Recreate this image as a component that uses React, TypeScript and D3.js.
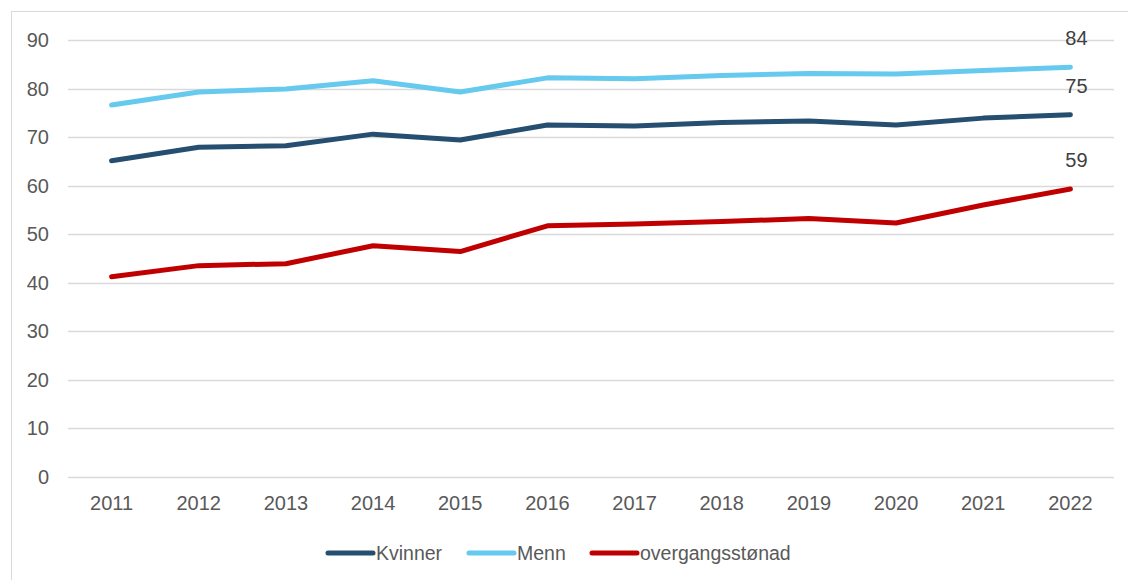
import React, { useEffect, useRef } from 'react';
import * as d3 from 'd3';

const years = ['2011', '2012', '2013', '2014', '2015', '2016', '2017', '2018', '2019', '2020', '2021', '2022'];
const kvinner = [65.1, 67.9, 68.2, 70.6, 69.4, 72.5, 72.3, 73.0, 73.3, 72.5, 73.9, 74.6];
const menn = [76.6, 79.3, 79.9, 81.6, 79.3, 82.2, 82.0, 82.7, 83.1, 83.0, 83.7, 84.4];
const overgangsstonad = [41.2, 43.5, 43.9, 47.6, 46.4, 51.7, 52.1, 52.6, 53.2, 52.3, 56.0, 59.3];
const yTicks = [0, 10, 20, 30, 40, 50, 60, 70, 80, 90];
const endLabels = ['75', '84', '59'];

const seriesNames = ['Kvinner', 'Menn', 'overgangsstønad'];
const seriesColors = ['#254E70', '#65CAEE', '#C00000'];

const App = () => {
  const svgRef = useRef<SVGSVGElement>(null);

  useEffect(() => {
    document.body.style.margin = '0';
    const svg = d3.select(svgRef.current);
    svg.selectAll('*').remove();

    const width = 1128;
    const height = 580;
    const font = '"Liberation Sans", Arial, sans-serif';
    const textColor = '#595959';

    // outer frame
    svg.append('rect')
      .attr('x', 11.5).attr('y', 11.5)
      .attr('width', width + 20).attr('height', height + 20)
      .attr('fill', 'none')
      .attr('stroke', '#d9d9d9')
      .attr('stroke-width', 1);

    const x = d3.scaleBand().domain(years).range([68, 1114]);
    const y = d3.scaleLinear().domain([0, 90]).range([476.7, 40]);
    const cx = (d: string) => (x(d) as number) + x.bandwidth() / 2;

    // gridlines
    svg.append('g')
      .selectAll('line')
      .data(yTicks)
      .enter().append('line')
      .attr('x1', 68).attr('x2', 1114)
      .attr('y1', d => Math.round(y(d)) + 0.5)
      .attr('y2', d => Math.round(y(d)) + 0.5)
      .attr('stroke', '#d9d9d9')
      .attr('stroke-width', 1.5);

    // y tick labels
    svg.append('g')
      .selectAll('text')
      .data(yTicks)
      .enter().append('text')
      .attr('x', 49)
      .attr('y', d => y(d) + 7)
      .attr('text-anchor', 'end')
      .style('font-family', font)
      .style('font-size', '20px')
      .style('fill', textColor)
      .text(d => d);

    // x tick labels
    svg.append('g')
      .selectAll('text')
      .data(years)
      .enter().append('text')
      .attr('x', d => cx(d))
      .attr('y', 510)
      .attr('text-anchor', 'middle')
      .style('font-family', font)
      .style('font-size', '20px')
      .style('fill', textColor)
      .text(d => d);

    const allSeries = [kvinner, menn, overgangsstonad];

    const line = d3.line<number>()
      .x((_, i) => cx(years[i]))
      .y(d => y(d));

    allSeries.forEach((values, si) => {
      svg.append('path')
        .datum(values)
        .attr('fill', 'none')
        .attr('stroke', seriesColors[si])
        .attr('stroke-width', 5)
        .attr('stroke-linecap', 'round')
        .attr('stroke-linejoin', 'round')
        .attr('d', line);

      const last = values.length - 1;
      svg.append('text')
        .attr('x', cx(years[last]) + 6)
        .attr('y', y(values[last]) - 22)
        .attr('text-anchor', 'middle')
        .style('font-family', font)
        .style('font-size', '20px')
        .style('fill', '#404040')
        .text(endLabels[si]);
    });

    // legend
    const legendX = [328, 469, 592];
    const legend = svg.append('g');
    seriesNames.forEach((name, i) => {
      legend.append('line')
        .attr('x1', legendX[i]).attr('x2', legendX[i] + 45)
        .attr('y1', 553).attr('y2', 553)
        .attr('stroke', seriesColors[i])
        .attr('stroke-width', 5)
        .attr('stroke-linecap', 'round');
      legend.append('text')
        .attr('x', legendX[i] + 48)
        .attr('y', 560)
        .style('font-family', font)
        .style('font-size', '19.5px')
        .style('fill', textColor)
        .text(name);
    });
  }, []);

  return (
    <div style={{ width: 1128, height: 580, background: '#fff' }}>
      <svg ref={svgRef} width={1128} height={580} style={{ display: 'block' }}></svg>
    </div>
  );
};

export default App;
